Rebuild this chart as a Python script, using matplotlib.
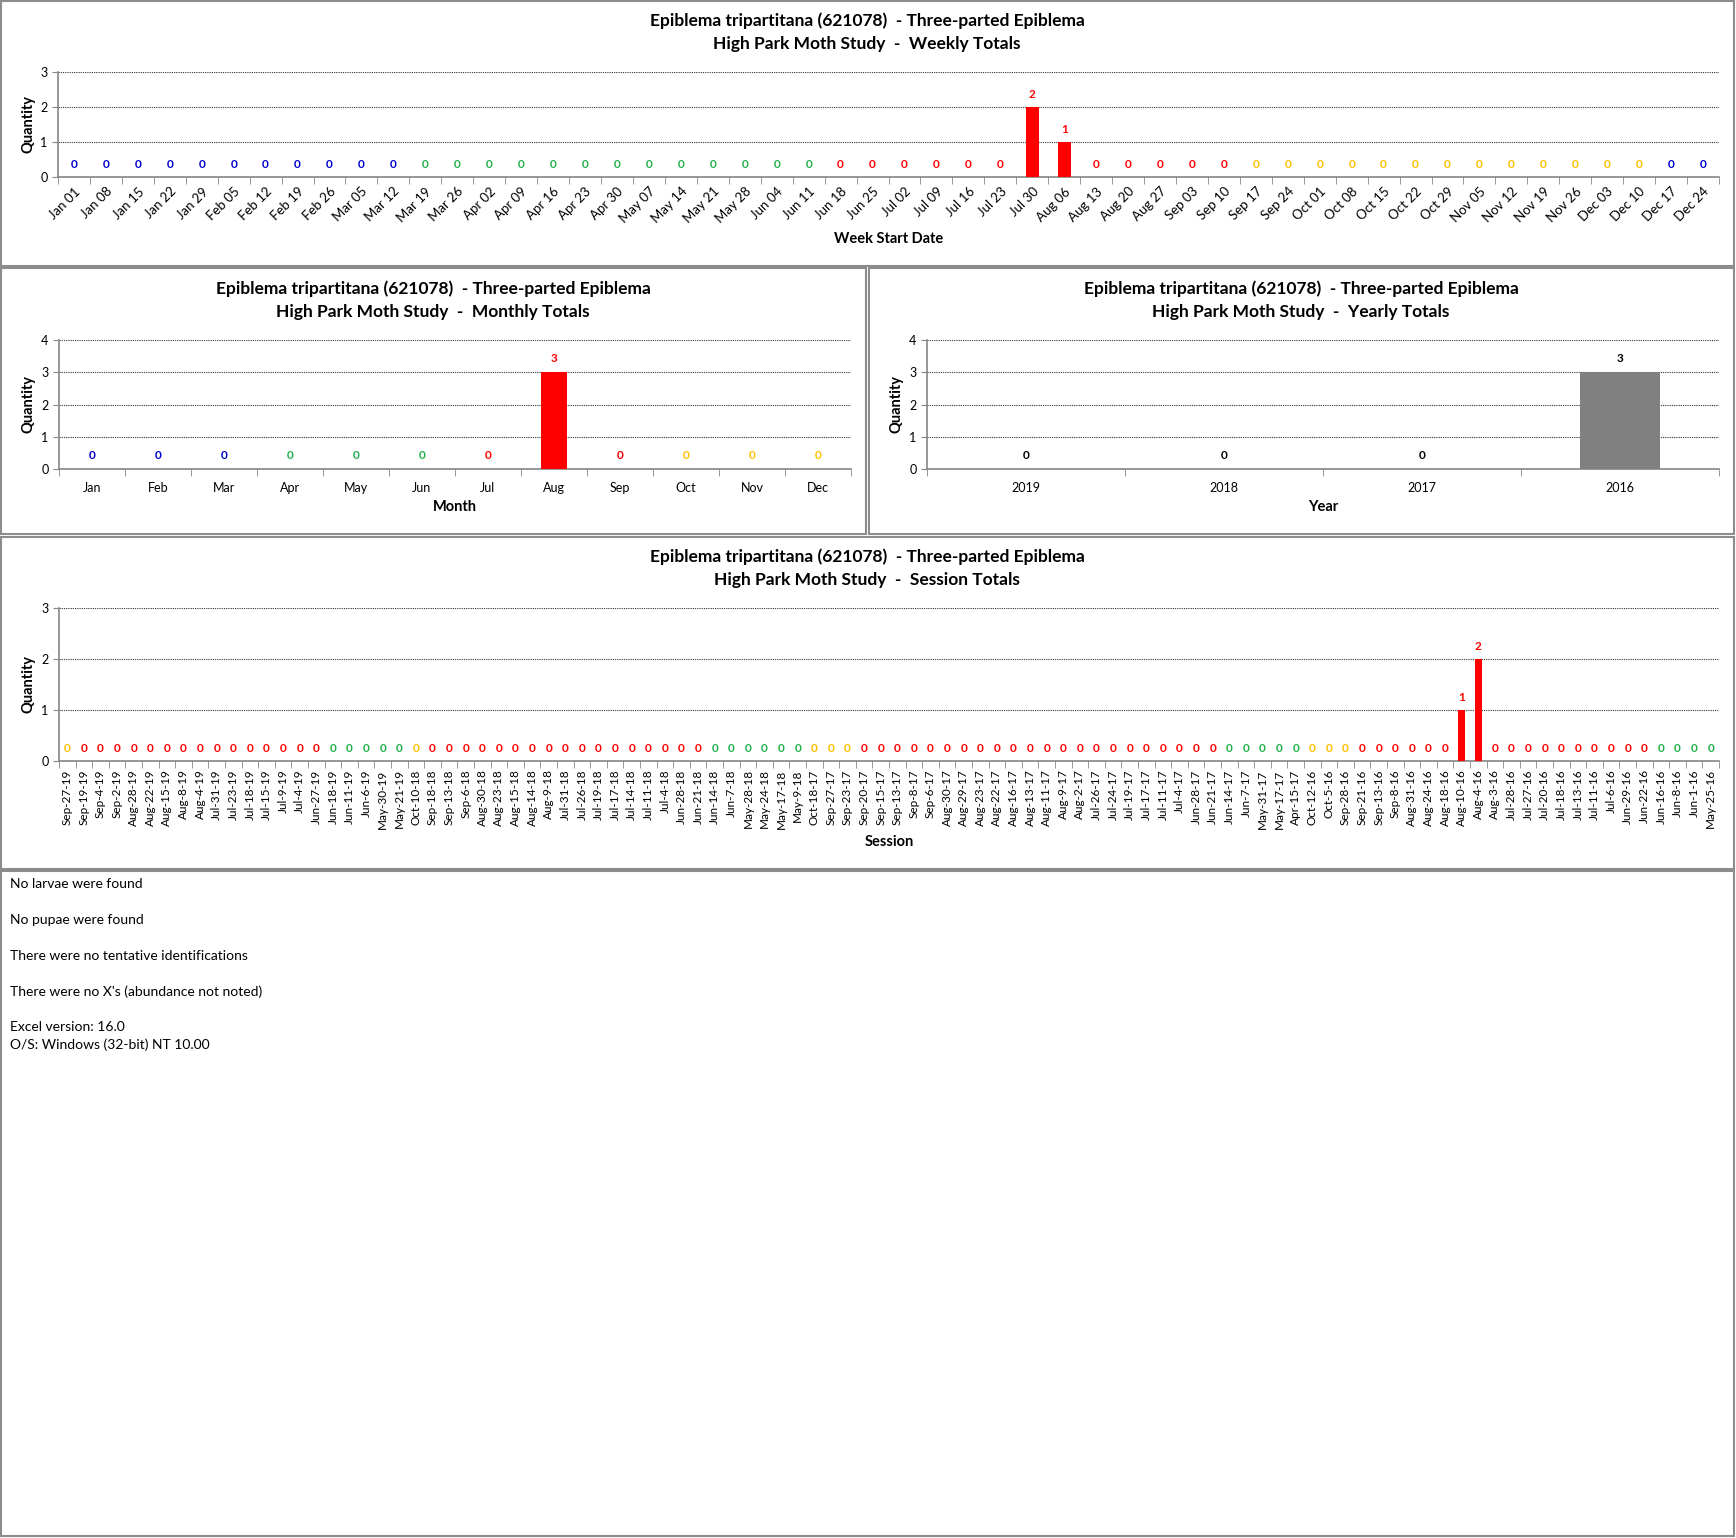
import numpy as np
import matplotlib
import matplotlib.pyplot as plt
from matplotlib.patches import Rectangle

matplotlib.use("Agg")
plt.rcParams["font.family"] = ["Lato", "DejaVu Sans"]

# ---- data ----
week_labels = ["Jan 01", "Jan 08", "Jan 15", "Jan 22", "Jan 29", "Feb 05", "Feb 12", "Feb 19",
               "Feb 26", "Mar 05", "Mar 12", "Mar 19", "Mar 26", "Apr 02", "Apr 09", "Apr 16",
               "Apr 23", "Apr 30", "May 07", "May 14", "May 21", "May 28", "Jun 04", "Jun 11",
               "Jun 18", "Jun 25", "Jul 02", "Jul 09", "Jul 16", "Jul 23", "Jul 30", "Aug 06",
               "Aug 13", "Aug 20", "Aug 27", "Sep 03", "Sep 10", "Sep 17", "Sep 24", "Oct 01",
               "Oct 08", "Oct 15", "Oct 22", "Oct 29", "Nov 05", "Nov 12", "Nov 19", "Nov 26",
               "Dec 03", "Dec 10", "Dec 17", "Dec 24"]
week_counts = [0, 0, 0, 0, 0, 0, 0, 0, 0, 0,
               0, 0, 0, 0, 0, 0, 0, 0, 0, 0,
               0, 0, 0, 0, 0, 0, 0, 0, 0, 0,
               2, 1, 0, 0, 0, 0, 0, 0, 0, 0,
               0, 0, 0, 0, 0, 0, 0, 0, 0, 0,
               0, 0]
# W winter, S spring, U summer, A autumn
week_season = "WWWWWWWWWWWSSSSSSSSSSSSSUUUUUUUUUUUUUAAAAAAAAAAAAAWW"

month_labels = ["Jan", "Feb", "Mar", "Apr", "May", "Jun", "Jul", "Aug", "Sep", "Oct", "Nov", "Dec"]
month_counts = [0, 0, 0, 0, 0, 0, 0, 3, 0, 0, 0, 0]
month_season = "WWWSSSUUUAAA"

year_labels = ["2019", "2018", "2017", "2016"]
year_counts = [0, 0, 0, 3]

session_labels = [
    "Sep-27-19", "Sep-19-19", "Sep-4-19", "Sep-2-19", "Aug-28-19", "Aug-22-19", "Aug-15-19",
    "Aug-8-19", "Aug-4-19", "Jul-31-19", "Jul-23-19", "Jul-18-19", "Jul-15-19", "Jul-9-19",
    "Jul-4-19", "Jun-27-19", "Jun-18-19", "Jun-11-19", "Jun-6-19", "May-30-19", "May-21-19",
    "Oct-10-18", "Sep-18-18", "Sep-13-18", "Sep-6-18", "Aug-30-18", "Aug-23-18", "Aug-15-18",
    "Aug-14-18", "Aug-9-18", "Jul-31-18", "Jul-26-18", "Jul-19-18", "Jul-17-18", "Jul-14-18",
    "Jul-11-18", "Jul-4-18", "Jun-28-18", "Jun-21-18", "Jun-14-18", "Jun-7-18", "May-28-18",
    "May-24-18", "May-17-18", "May-9-18", "Oct-18-17", "Sep-27-17", "Sep-23-17", "Sep-20-17",
    "Sep-15-17", "Sep-13-17", "Sep-8-17", "Sep-6-17", "Aug-30-17", "Aug-29-17", "Aug-23-17",
    "Aug-22-17", "Aug-16-17", "Aug-13-17", "Aug-11-17", "Aug-9-17", "Aug-2-17", "Jul-26-17",
    "Jul-24-17", "Jul-19-17", "Jul-17-17", "Jul-11-17", "Jul-4-17", "Jun-28-17", "Jun-21-17",
    "Jun-14-17", "Jun-7-17", "May-31-17", "May-17-17", "Apr-15-17", "Oct-12-16", "Oct-5-16",
    "Sep-28-16", "Sep-21-16", "Sep-13-16", "Sep-8-16", "Aug-31-16", "Aug-24-16", "Aug-18-16",
    "Aug-10-16", "Aug-4-16", "Aug-3-16", "Jul-28-16", "Jul-27-16", "Jul-20-16", "Jul-18-16",
    "Jul-13-16", "Jul-11-16", "Jul-6-16", "Jun-29-16", "Jun-22-16", "Jun-16-16", "Jun-8-16",
    "Jun-1-16", "May-25-16"]
session_counts = [0, 0, 0, 0, 0, 0, 0, 0, 0, 0,
                  0, 0, 0, 0, 0, 0, 0, 0, 0, 0,
                  0, 0, 0, 0, 0, 0, 0, 0, 0, 0,
                  0, 0, 0, 0, 0, 0, 0, 0, 0, 0,
                  0, 0, 0, 0, 0, 0, 0, 0, 0, 0,
                  0, 0, 0, 0, 0, 0, 0, 0, 0, 0,
                  0, 0, 0, 0, 0, 0, 0, 0, 0, 0,
                  0, 0, 0, 0, 0, 0, 0, 0, 0, 0,
                  0, 0, 0, 0, 1, 2, 0, 0, 0, 0,
                  0, 0, 0, 0, 0, 0, 0, 0, 0, 0]
session_season = ("AUUUUUUUUUUUUUUUSSSSSAUUUUUUUUUUUUU"
                  "UUUUSSSSSSAAAUUUUUUUUUUUUUUUUUUUUUU"
                  "SSSSSAAAUUUUUUUUUUUUUUUUUUSSSS")

notes = ["No larvae were found", "No pupae were found", "There were no tentative identifications",
         "There were no X's (abundance not noted)"]
version_lines = ["Excel version: 16.0", "O/S: Windows (32-bit) NT 10.00"]

species = "Epiblema tripartitana (621078)  - Three-parted Epiblema"
season_color = {"W": "#0000CC", "S": "#22B14C", "U": "#FF0000", "A": "#FFC000"}

W, H = 1736, 1538
fig = plt.figure(figsize=(W / 100, H / 100), dpi=100)


def add_ax(x0, y0, x1, y1):
    return fig.add_axes([x0 / W, 1 - y1 / H, (x1 - x0) / W, (y1 - y0) / H])


def ftext(x, y, s, **kw):
    fig.text(x / W, 1 - y / H, s, **kw)


def panel(x0, y0, x1, y1):
    fig.add_artist(Rectangle((x0 / W, 1 - y1 / H), (x1 - x0) / W, (y1 - y0) / H,
                             transform=fig.transFigure, fill=False, ec="#8c8c8c", lw=1.5))


def bar_chart(ax, labels, counts, colors, label_colors, ymax, rot, lab_off, tick_fs, pad=6):
    n = len(labels)
    x = np.arange(n)
    ax.bar(x, counts, width=0.4, color=colors, zorder=3)
    for xi, v, c in zip(x, counts, label_colors):
        ax.annotate(str(v), (xi, v), xytext=(0, lab_off), textcoords="offset points",
                    ha="center", va="center", color=c, fontsize=8.5, fontweight="bold")
    ax.set_xlim(-0.5, n - 0.5)
    ax.set_ylim(0, ymax)
    ax.set_yticks(range(ymax + 1))
    ax.yaxis.grid(True, linestyle=(0, (1, 1)), color="#303030", lw=0.8, zorder=0)
    ax.set_axisbelow(True)
    ax.set_xticks(x)
    if rot == 45:
        ax.set_xticklabels(labels, rotation=45, ha="right", rotation_mode="anchor", fontsize=tick_fs)
    elif rot == 90:
        ax.set_xticklabels(labels, rotation=90, ha="center", va="top", fontsize=tick_fs)
    else:
        ax.set_xticklabels(labels, fontsize=tick_fs)
    ax.set_xticks(np.arange(n + 1) - 0.5, minor=True)
    ax.tick_params(axis="x", which="major", length=0, pad=pad)
    ax.tick_params(axis="x", which="minor", length=5, color="#868686")
    ax.tick_params(axis="y", length=4, color="#868686", labelsize=9)
    for s in ["top", "right"]:
        ax.spines[s].set_visible(False)
    for s in ["left", "bottom"]:
        ax.spines[s].set_color("#868686")
        ax.spines[s].set_linewidth(1.2)


title_kw = dict(ha="center", va="center", fontsize=12.5, fontweight="bold")
axlab_kw = dict(ha="center", va="center", fontsize=10.5, fontweight="bold")

# ---- weekly ----
panel(1, 1, 1734, 266)
ax = add_ax(58, 72, 1719, 177)
wc = [season_color[s] for s in week_season]
bar_chart(ax, week_labels, week_counts, "#FF0000", wc, 3, 45, 9, 9.5)
ftext(867, 21, species, **title_kw)
ftext(867, 44, "High Park Moth Study  -  Weekly Totals", **title_kw)
ftext(889, 239, "Week Start Date", **axlab_kw)
ftext(28, 124, "Quantity", rotation=90, **axlab_kw)

# ---- monthly ----
panel(1, 268, 866, 534)
ax = add_ax(59, 340, 851, 469)
mc = [season_color[s] for s in month_season]
bar_chart(ax, month_labels, month_counts, "#FF0000", mc, 4, 0, 10, 9, pad=9)
ftext(433, 289, species, **title_kw)
ftext(433, 312, "High Park Moth Study  -  Monthly Totals", **title_kw)
ftext(455, 507, "Month", **axlab_kw)
ftext(28, 404, "Quantity", rotation=90, **axlab_kw)

# ---- yearly ----
panel(869, 268, 1734, 534)
ax = add_ax(927, 340, 1719, 469)
bar_chart(ax, year_labels, year_counts, "#808080", ["black"] * 4, 4, 0, 10, 9, pad=9)
ftext(1301, 289, species, **title_kw)
ftext(1301, 312, "High Park Moth Study  -  Yearly Totals", **title_kw)
ftext(1323, 507, "Year", **axlab_kw)
ftext(896, 404, "Quantity", rotation=90, **axlab_kw)

# ---- session ----
panel(1, 537, 1734, 869)
ax = add_ax(59, 608, 1719, 761)
sc = [season_color[s] for s in session_season]
bar_chart(ax, session_labels, session_counts, "#FF0000", sc, 3, 90, 9, 8.5)
ftext(867, 557, species, **title_kw)
ftext(867, 580, "High Park Moth Study  -  Session Totals", **title_kw)
ftext(889, 842, "Session", **axlab_kw)
ftext(28, 684, "Quantity", rotation=90, **axlab_kw)

# ---- notes ----
panel(1, 871, 1734, 1536)
for i, line in enumerate(notes):
    ftext(10, 884 + 36 * i, line, ha="left", va="center", fontsize=10)
for i, line in enumerate(version_lines):
    ftext(10, 1027 + 18 * i, line, ha="left", va="center", fontsize=10)

fig.savefig("out.png", dpi=100, facecolor="white")
